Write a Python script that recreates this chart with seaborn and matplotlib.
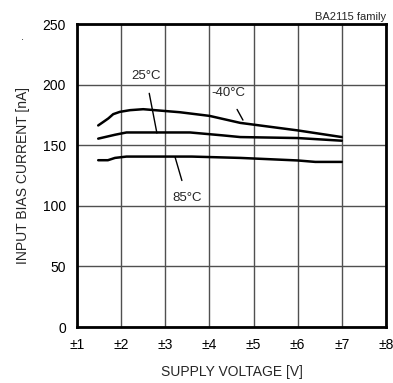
import matplotlib
matplotlib.use('Agg')
import matplotlib.pyplot as plt
import seaborn as sns
import pandas as pd

# curves (supply voltage in +/-V, bias current in nA)
volt_m40 = [1.48, 1.6, 1.71, 1.82, 1.97, 2.2, 2.5, 3.33, 4.0, 4.7, 6.0, 7.0]
bias_m40 = [166.4, 169.4, 172.2, 175.7, 177.6, 179.0, 179.8, 177.3, 174.3, 168.5, 162.3, 156.8]

volt_25 = [1.48, 1.86, 2.12, 3.56, 4.3, 4.7, 6.0, 7.0]
bias_25 = [155.5, 158.7, 160.6, 160.6, 158.2, 156.8, 156.0, 153.8]

volt_85 = [1.48, 1.7, 1.86, 2.12, 3.6, 4.7, 6.0, 6.4, 7.0]
bias_85 = [137.7, 137.7, 139.6, 140.7, 140.7, 139.6, 137.5, 136.3, 136.3]

x_ticks = [1, 2, 3, 4, 5, 6, 7, 8]
x_tick_labels = ['±1', '±2', '±3', '±4', '±5', '±6', '±7', '±8']
y_ticks = [0, 50, 100, 150, 200, 250]

df = pd.concat([
    pd.DataFrame({'volt': volt_m40, 'bias': bias_m40, 'temp': '-40°C'}),
    pd.DataFrame({'volt': volt_25, 'bias': bias_25, 'temp': '25°C'}),
    pd.DataFrame({'volt': volt_85, 'bias': bias_85, 'temp': '85°C'}),
])

sns.set_style('white')
plt.rcParams['font.family'] = ['Liberation Sans', 'DejaVu Sans']

fig = plt.figure(figsize=(3.93, 3.83), dpi=100)
ax = fig.add_axes([0.196, 0.146, 0.786, 0.791])

sns.lineplot(data=df, x='volt', y='bias', units='temp', estimator=None,
             color='black', linewidth=1.8, sort=False, ax=ax)

ax.set_xlim(1, 8)
ax.set_ylim(0, 250)
ax.set_xticks(x_ticks)
ax.set_xticklabels(x_tick_labels)
ax.set_yticks(y_ticks)
ax.grid(True, color='#505050', linewidth=1.0)
ax.set_axisbelow(True)
for s in ax.spines.values():
    s.set_visible(True)
    s.set_color('black')
    s.set_linewidth(2.0)
ax.tick_params(axis='both', labelsize=10, length=0, pad=8, colors='black')

ax.set_xlabel('SUPPLY VOLTAGE [V]', fontsize=10, labelpad=9)
ax.set_ylabel('INPUT BIAS CURRENT [nA]', fontsize=10, labelpad=9)

# temperature labels with leader lines
ax.annotate('25°C', xy=(2.81, 160.1), xytext=(2.56, 207.3), fontsize=9.5,
            ha='center', va='center',
            arrowprops=dict(arrowstyle='-', color='black', lw=1.0, shrinkA=6, shrinkB=0))
ax.annotate('-40°C', xy=(4.76, 170.8), xytext=(4.42, 193.3), fontsize=9.5,
            ha='center', va='center',
            arrowprops=dict(arrowstyle='-', color='black', lw=1.0, shrinkA=6, shrinkB=0))
ax.annotate('85°C', xy=(3.22, 140.5), xytext=(3.49, 106.7), fontsize=9.5,
            ha='center', va='center',
            arrowprops=dict(arrowstyle='-', color='black', lw=1.0, shrinkA=6, shrinkB=0))

ax.text(8, 252, 'BA2115 family', fontsize=8, ha='right', va='bottom')
fig.text(23 / 393, 1 - 37 / 383, '.', fontsize=8, ha='center', va='center')

fig.savefig('out.png', dpi=100)
